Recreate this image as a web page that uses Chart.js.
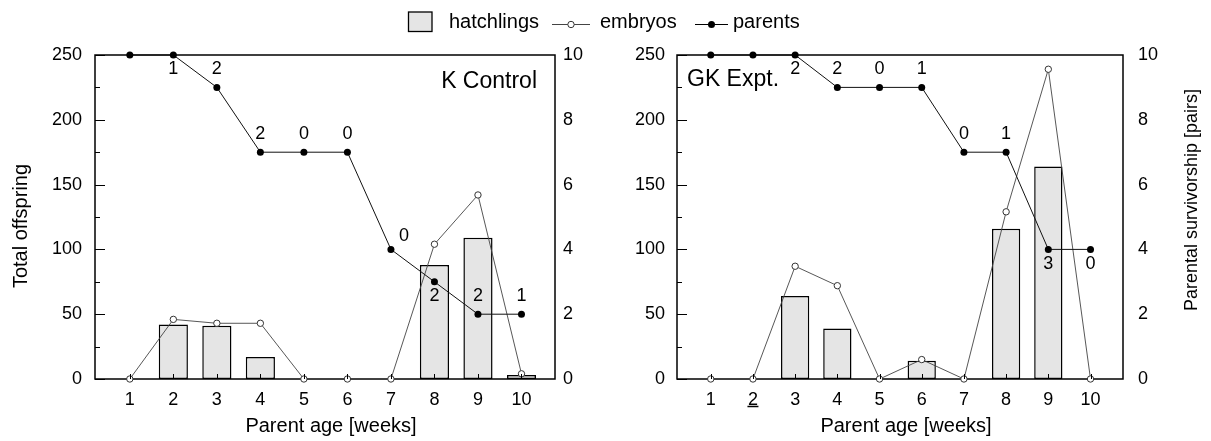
<!DOCTYPE html>
<html>
<head>
<meta charset="utf-8">
<title>Offspring and parental survivorship by parent age</title>
<script src="https://cdn.jsdelivr.net/npm/chart.js@4.4.1/dist/chart.umd.min.js"></script>
<style>
  html, body { margin: 0; padding: 0; background: #fff; }
  #wrap { position: relative; width: 1211px; height: 441px; overflow: hidden; }
  #control { position: absolute; left: 0; top: 0; }
  #expt { position: absolute; left: 600px; top: 0; }
  #legend { position: absolute; left: 0; top: 0; }
</style>
</head>
<body>
<div id="wrap">
  <canvas id="control" width="600" height="441"></canvas>
  <canvas id="expt" width="611" height="441"></canvas>
  <svg id="legend" width="1211" height="40" font-family="'Liberation Sans', Arial, sans-serif" font-size="20" fill="#000">
    <rect x="408.5" y="12" width="23.5" height="19.5" fill="#e5e5e5" stroke="#000" stroke-width="1.3"/>
    <text x="449" y="28">hatchlings</text>
    <line x1="552" y1="24.5" x2="590" y2="24.5" stroke="#444" stroke-width="1"/>
    <circle cx="571" cy="24.5" r="3.2" fill="#fff" stroke="#333" stroke-width="1"/>
    <text x="600" y="28">embryos</text>
    <line x1="695" y1="24.5" x2="728" y2="24.5" stroke="#000" stroke-width="1"/>
    <circle cx="711.5" cy="24.5" r="3.5" fill="#000"/>
    <text x="733" y="28">parents</text>
  </svg>
</div>
<script>
// Parent age in weeks and the tick labels shown under each week
const weeks = [1, 2, 3, 4, 5, 6, 7, 8, 9, 10];
const weekLabels = ['1', '2', '3', '4', '5', '6', '7', '8', '9', '10'];
const offspringTicks = [0, 50, 100, 150, 200, 250];
const offspringMinorTicks = [25, 75, 125, 175, 225];
const survivorshipTicks = [0, 2, 4, 6, 8, 10];

// K Control
const controlHatchlings = [0, 42, 41, 17, 0, 0, 0, 88, 109, 3];
const controlEmbryos = [0, 46, 43, 43, 0, 0, 0, 104, 142, 4];
const controlParents = [10, 10, 9, 7, 7, 7, 4, 3, 2, 2];
const controlCounts = [null, 1, 2, 2, 0, 0, 0, 2, 2, 1];

// GK Expt.
const exptHatchlings = [0, 0, 64, 39, 0, 14, 0, 116, 164, 0];
const exptEmbryos = [0, 0, 87, 72, 0, 15, 0, 129, 239, 0];
const exptParents = [10, 10, 10, 9, 9, 9, 7, 7, 4, 4];
const exptCounts = [null, null, 2, 2, 0, 1, 0, 1, 3, 0];

const FONT = "'Liberation Sans', Arial, sans-serif";
Chart.defaults.font.family = FONT;
Chart.defaults.color = '#000';

const toPoints = (values) => weeks.map((w, i) => ({ x: w, y: values[i] }));

// Frame, inward tick marks, panel name, axis titles and count labels
const panelDecor = {
  id: 'panelDecor',
  beforeDatasetsDraw(chart) {
    const { ctx, chartArea: a } = chart;
    ctx.save();
    ctx.strokeStyle = '#000';
    ctx.lineWidth = 1.5;
    ctx.strokeRect(a.left, a.top, a.right - a.left, a.bottom - a.top);
    ctx.restore();
  },
  afterDatasetsDraw(chart) {
    const { ctx, chartArea: a, scales } = chart;
    ctx.save();
    ctx.strokeStyle = '#000';
    ctx.lineWidth = 1;
    ctx.beginPath();
    weeks.forEach((w) => {
      const px = Math.round(scales.x.getPixelForValue(w)) + 0.5;
      ctx.moveTo(px, a.bottom);
      ctx.lineTo(px, a.bottom - 5);
    });
    offspringTicks.forEach((v) => {
      const py = Math.round(scales.yOff.getPixelForValue(v)) + 0.5;
      ctx.moveTo(a.left, py);
      ctx.lineTo(a.left + 10, py);
    });
    offspringMinorTicks.forEach((v) => {
      const py = Math.round(scales.yOff.getPixelForValue(v)) + 0.5;
      ctx.moveTo(a.left, py);
      ctx.lineTo(a.left + 5, py);
    });
    ctx.stroke();
    ctx.restore();
  },
  afterDraw(chart, args, o) {
    const { ctx, chartArea: a, scales } = chart;
    ctx.save();
    ctx.fillStyle = '#000';

    // panel name
    ctx.font = '23px ' + FONT;
    ctx.textBaseline = 'middle';
    if (o.nameAlign === 'right') {
      ctx.textAlign = 'right';
      ctx.fillText(o.name, a.right - 18, a.top + 27);
    } else {
      ctx.textAlign = 'left';
      ctx.fillText(o.name, a.left + 10, a.top + 25);
    }

    // counts next to the survivorship points
    const meta = chart.getDatasetMeta(0);
    ctx.font = '18px ' + FONT;
    ctx.textAlign = 'center';
    o.counts.forEach((c, i) => {
      if (c === null) return;
      const pt = meta.data[i];
      const side = o.countSide[i];
      let dx = 0, dy = -18;
      if (side === 'below') dy = 14.5;
      if (side === 'upright') { dx = 13; dy = -13; }
      ctx.fillText(String(c), pt.x + dx, pt.y + dy);
    });

    // axis titles
    ctx.font = '20px ' + FONT;
    ctx.textAlign = 'center';
    ctx.fillText('Parent age [weeks]', (a.left + a.right) / 2 + 6, 426);
    if (o.leftTitle) {
      ctx.save();
      ctx.translate(21, (a.top + a.bottom) / 2 + 9);
      ctx.rotate(-Math.PI / 2);
      ctx.fillText(o.leftTitle, 0, 0);
      ctx.restore();
    }
    if (o.rightTitle) {
      ctx.save();
      ctx.font = '18px ' + FONT;
      ctx.translate(chart.width - 19, (a.top + a.bottom) / 2 - 17);
      ctx.rotate(-Math.PI / 2);
      ctx.fillText(o.rightTitle, 0, 0);
      ctx.restore();
    }

    // underlined week label
    if (o.underlineWeek != null) {
      const px = scales.x.getPixelForValue(o.underlineWeek);
      ctx.strokeStyle = '#000';
      ctx.lineWidth = 1.5;
      ctx.beginPath();
      ctx.moveTo(px - 5.5, a.bottom + 27.5);
      ctx.lineTo(px + 5.5, a.bottom + 27.5);
      ctx.stroke();
    }
    ctx.restore();
  }
};

function makePanel(canvas, p) {
  return new Chart(canvas, {
    type: 'bar',
    data: {
      datasets: [
        {
          type: 'line', label: 'parents', data: toPoints(p.parents), yAxisID: 'ySurv',
          borderColor: '#111', borderWidth: 1, tension: 0,
          pointRadius: 3.5, pointBackgroundColor: '#000', pointBorderWidth: 0,
          clip: false, order: 0
        },
        {
          type: 'line', label: 'embryos', data: toPoints(p.embryos), yAxisID: 'yOff',
          borderColor: '#444', borderWidth: 0.9, tension: 0,
          pointRadius: 3.2, pointBackgroundColor: '#fff', pointBorderColor: '#333', pointBorderWidth: 1,
          clip: false, order: 1
        },
        {
          type: 'bar', label: 'hatchlings', data: toPoints(p.hatchlings), yAxisID: 'yOff',
          backgroundColor: '#e5e5e5', borderColor: '#000', borderWidth: 1.5, borderSkipped: false,
          categoryPercentage: 1, barPercentage: 0.67, order: 2
        }
      ]
    },
    options: {
      responsive: false,
      animation: false,
      events: [],
      layout: { padding: { top: 55, left: 0, right: 0, bottom: 0 } },
      plugins: {
        legend: { display: false },
        tooltip: { enabled: false },
        panelDecor: p.decor
      },
      scales: {
        x: {
          type: 'linear', min: 0.2, max: 10.77, offset: false,
          grid: { display: false, drawTicks: false }, border: { display: false },
          afterBuildTicks: (s) => { s.ticks = weeks.map((v) => ({ value: v })); },
          ticks: {
            padding: 10, font: { size: 18 }, color: '#000', autoSkip: false, maxRotation: 0,
            callback: (v, i) => weekLabels[i]
          },
          afterFit: (s) => { s.height = 62; }
        },
        yOff: {
          type: 'linear', position: 'left', min: 0, max: 250,
          grid: { display: false, drawTicks: false }, border: { display: false },
          afterBuildTicks: (s) => { s.ticks = offspringTicks.map((v) => ({ value: v })); },
          ticks: { padding: p.leftPad, font: { size: 18 }, color: '#000' },
          afterFit: (s) => { s.width = p.leftWidth; }
        },
        ySurv: {
          type: 'linear', position: 'right', min: 0, max: 10,
          grid: { display: false, drawTicks: false }, border: { display: false },
          afterBuildTicks: (s) => { s.ticks = survivorshipTicks.map((v) => ({ value: v })); },
          ticks: { padding: p.rightPad, font: { size: 18 }, color: '#000' },
          afterFit: (s) => { s.width = p.rightWidth; }
        }
      }
    },
    plugins: [panelDecor]
  });
}

makePanel(document.getElementById('control'), {
  hatchlings: controlHatchlings,
  embryos: controlEmbryos,
  parents: controlParents,
  leftWidth: 95, leftPad: 13, rightWidth: 45, rightPad: 8,
  decor: {
    name: 'K Control', nameAlign: 'right',
    counts: controlCounts,
    countSide: ['', 'below', 'above', 'above', 'above', 'above', 'upright', 'below', 'above', 'above'],
    leftTitle: 'Total offspring', rightTitle: null, underlineWeek: null
  }
});

makePanel(document.getElementById('expt'), {
  hatchlings: exptHatchlings,
  embryos: exptEmbryos,
  parents: exptParents,
  leftWidth: 77, leftPad: 12, rightWidth: 88, rightPad: 15,
  decor: {
    name: 'GK Expt.', nameAlign: 'left',
    counts: exptCounts,
    countSide: ['', '', 'below', 'above', 'above', 'above', 'above', 'above', 'below', 'below'],
    leftTitle: null, rightTitle: 'Parental survivorship [pairs]', underlineWeek: 2
  }
});
</script>
</body>
</html>
